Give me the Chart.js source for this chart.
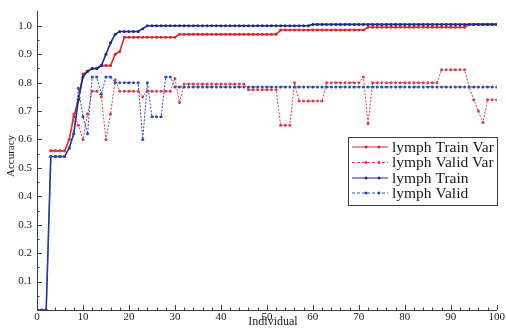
<!DOCTYPE html>
<html>
<head>
<meta charset="utf-8">
<script src="https://cdn.jsdelivr.net/npm/chart.js@4.4.0/dist/chart.umd.min.js"></script>
<style>
  html, body { margin: 0; padding: 0; background: #fff; }
  #wrap { width: 506px; height: 328px; }
</style>
</head>
<body>
<div id="wrap"><canvas id="chart"></canvas></div>
<script>
// x categories: individual index 0..100
const individuals = [
  0, 1, 2, 3, 4, 5, 6, 7, 8, 9,
  10, 11, 12, 13, 14, 15, 16, 17, 18, 19,
  20, 21, 22, 23, 24, 25, 26, 27, 28, 29,
  30, 31, 32, 33, 34, 35, 36, 37, 38, 39,
  40, 41, 42, 43, 44, 45, 46, 47, 48, 49,
  50, 51, 52, 53, 54, 55, 56, 57, 58, 59,
  60, 61, 62, 63, 64, 65, 66, 67, 68, 69,
  70, 71, 72, 73, 74, 75, 76, 77, 78, 79,
  80, 81, 82, 83, 84, 85, 86, 87, 88, 89,
  90, 91, 92, 93, 94, 95, 96, 97, 98, 99,
  100,
]

const trainVar = [
  null, null, null, 0.56, 0.56, 0.56, 0.56, 0.60, 0.68, 0.74,
  0.83, 0.84, 0.85, 0.85, 0.86, 0.86, 0.86, 0.90, 0.91, 0.96,
  0.96, 0.96, 0.96, 0.96, 0.96, 0.96, 0.96, 0.96, 0.96, 0.96,
  0.96, 0.97, 0.97, 0.97, 0.97, 0.97, 0.97, 0.97, 0.97, 0.97,
  0.97, 0.97, 0.97, 0.97, 0.97, 0.97, 0.97, 0.97, 0.97, 0.97,
  0.97, 0.97, 0.97, 0.985, 0.985, 0.985, 0.985, 0.985, 0.985, 0.985,
  0.985, 0.985, 0.985, 0.985, 0.985, 0.985, 0.985, 0.985, 0.985, 0.985,
  0.985, 0.985, 0.995, 0.995, 0.995, 0.995, 0.995, 0.995, 0.995, 0.995,
  0.995, 0.995, 0.995, 0.995, 0.995, 0.995, 0.995, 0.995, 0.995, 0.995,
  0.995, 0.995, 0.995, 0.995, 1.005, 1.005, 1.005, 1.005, 1.005, 1.005,
  1.005,
]

const validVar = [
  null, null, null, 0.56, 0.56, 0.56, 0.56, 0.60, 0.69, 0.65,
  0.60, 0.69, 0.77, 0.77, 0.75, 0.60, 0.69, 0.81, 0.77, 0.77,
  0.77, 0.77, 0.77, 0.75, 0.77, 0.77, 0.77, 0.77, 0.77, 0.77,
  0.815, 0.73, 0.795, 0.795, 0.795, 0.795, 0.795, 0.795, 0.795, 0.795,
  0.795, 0.795, 0.795, 0.795, 0.795, 0.795, 0.775, 0.775, 0.775, 0.775,
  0.775, 0.775, 0.775, 0.65, 0.65, 0.65, 0.80, 0.735, 0.735, 0.735,
  0.735, 0.735, 0.735, 0.80, 0.80, 0.80, 0.80, 0.80, 0.80, 0.80,
  0.80, 0.82, 0.655, 0.80, 0.80, 0.80, 0.80, 0.80, 0.80, 0.80,
  0.80, 0.80, 0.80, 0.80, 0.80, 0.80, 0.80, 0.80, 0.845, 0.845,
  0.845, 0.845, 0.845, 0.845, 0.785, 0.74, 0.70, 0.66, 0.74, 0.74,
  0.74,
]

const train = [
  0, 0, 0, 0.54, 0.54, 0.54, 0.54, 0.57, 0.62, 0.74,
  0.82, 0.84, 0.85, 0.85, 0.86, 0.90, 0.94, 0.97, 0.98, 0.98,
  0.98, 0.98, 0.98, 0.99, 1.0, 1.0, 1.0, 1.0, 1.0, 1.0,
  1.0, 1.0, 1.0, 1.0, 1.0, 1.0, 1.0, 1.0, 1.0, 1.0,
  1.0, 1.0, 1.0, 1.0, 1.0, 1.0, 1.0, 1.0, 1.0, 1.0,
  1.0, 1.0, 1.0, 1.0, 1.0, 1.0, 1.0, 1.0, 1.0, 1.0,
  1.005, 1.005, 1.005, 1.005, 1.005, 1.005, 1.005, 1.005, 1.005, 1.005,
  1.005, 1.005, 1.005, 1.005, 1.005, 1.005, 1.005, 1.005, 1.005, 1.005,
  1.005, 1.005, 1.005, 1.005, 1.005, 1.005, 1.005, 1.005, 1.005, 1.005,
  1.005, 1.005, 1.005, 1.005, 1.005, 1.005, 1.005, 1.005, 1.005, 1.005,
  1.005,
]

const valid = [
  0, 0, 0, 0.54, 0.54, 0.54, 0.54, 0.57, 0.62, 0.78,
  0.68, 0.62, 0.82, 0.82, 0.76, 0.82, 0.82, 0.80, 0.80, 0.80,
  0.80, 0.80, 0.80, 0.60, 0.80, 0.68, 0.68, 0.68, 0.82, 0.82,
  0.785, 0.785, 0.785, 0.785, 0.785, 0.785, 0.785, 0.785, 0.785, 0.785,
  0.785, 0.785, 0.785, 0.785, 0.785, 0.785, 0.785, 0.785, 0.785, 0.785,
  0.785, 0.785, 0.785, 0.785, 0.785, 0.785, 0.785, 0.785, 0.785, 0.785,
  0.785, 0.785, 0.785, 0.785, 0.785, 0.785, 0.785, 0.785, 0.785, 0.785,
  0.785, 0.785, 0.785, 0.785, 0.785, 0.785, 0.785, 0.785, 0.785, 0.785,
  0.785, 0.785, 0.785, 0.785, 0.785, 0.785, 0.785, 0.785, 0.785, 0.785,
  0.785, 0.785, 0.785, 0.785, 0.785, 0.785, 0.785, 0.785, 0.785, 0.785,
  0.785,
]

const seriesLabels = ['lymph Train Var', 'lymph Valid Var', 'lymph Train', 'lymph Valid']

const RED = '#d42a36'
const RED_LIGHT = '#d8404e'
const BLUE = '#1e2c8a'
const BLUE_LIGHT = '#2f4cab'
const AXIS = '#34453c'
const TEXT = '#1a1a1a'
const SERIF = '"Liberation Serif", "DejaVu Serif", serif'

const makeSet = (label, data, color, dashed, order) => ({
  label,
  data,
  borderColor: color,
  backgroundColor: color,
  borderWidth: dashed ? 1 : 1.6,
  borderDash: dashed ? [2, 1.5] : [],
  pointRadius: 1.5,
  pointHoverRadius: 1.5,
  pointBorderWidth: 0,
  tension: 0,
  spanGaps: false,
  order,
  isDashed: dashed,
})

// inward ticks, axis titles and the boxed legend inside the plot
const decorations = {
  id: 'decorations',
  afterDraw(chart) {
    const { ctx, chartArea: area, scales: { x, y } } = chart
    ctx.save()
    ctx.strokeStyle = AXIS
    ctx.lineWidth = 1
    ctx.beginPath()
    for (let v = 0; v <= 100; v += 2) {
      const px = Math.round(x.getPixelForValue(v)) + 0.5
      const len = v % 10 === 0 ? 5 : 2.5
      ctx.moveTo(px, area.bottom)
      ctx.lineTo(px, area.bottom - len)
    }
    for (let k = 1; k <= 20; k++) {
      const py = Math.round(y.getPixelForValue(k * 0.05)) + 0.5
      const len = k % 2 === 0 ? 5 : 2.5
      ctx.moveTo(area.left, py)
      ctx.lineTo(area.left + len, py)
    }
    ctx.stroke()

    ctx.fillStyle = TEXT
    ctx.textAlign = 'center'
    ctx.textBaseline = 'middle'
    ctx.font = `12px ${SERIF}`
    ctx.fillText('Individual', 273, 322)
    ctx.save()
    ctx.translate(11, 156)
    ctx.rotate(-Math.PI / 2)
    ctx.font = `11px ${SERIF}`
    ctx.fillText('Accuracy', 0, 0)
    ctx.restore()

    // legend box
    const bx = 348.5, by = 137.5, bw = 149, bh = 68
    ctx.fillStyle = '#fff'
    ctx.fillRect(bx, by, bw, bh)
    ctx.strokeStyle = '#3a3a3a'
    ctx.strokeRect(bx, by, bw, bh)
    const rows = [147, 162.5, 178, 193]
    chart.data.datasets.forEach((ds, i) => {
      const ry = rows[i]
      ctx.strokeStyle = ds.borderColor
      ctx.lineWidth = 1
      ctx.setLineDash(ds.isDashed ? [3, 2] : [])
      ctx.beginPath()
      ctx.moveTo(352, ry)
      ctx.lineTo(388, ry)
      ctx.stroke()
      ctx.setLineDash([])
      ctx.fillStyle = ds.borderColor
      ;[366, 379].forEach((mx) => {
        ctx.beginPath()
        ctx.arc(mx, ry, 1.5, 0, Math.PI * 2)
        ctx.fill()
      })
      ctx.fillStyle = TEXT
      ctx.textAlign = 'left'
      ctx.font = `15.5px ${SERIF}`
      ctx.fillText(ds.label, 392, ry + 0.5)
    })
    ctx.restore()
  },
}

new Chart(document.getElementById('chart'), {
  type: 'line',
  data: {
    labels: individuals,
    datasets: [
      makeSet(seriesLabels[0], trainVar, RED, false, 4),
      makeSet(seriesLabels[1], validVar, RED_LIGHT, true, 3),
      makeSet(seriesLabels[2], train, BLUE, false, 2),
      makeSet(seriesLabels[3], valid, BLUE_LIGHT, true, 1),
    ],
  },
  options: {
    responsive: true,
    maintainAspectRatio: false,
    animation: false,
    layout: { padding: { left: 0, right: 6, top: 8, bottom: 0 } },
    plugins: {
      legend: { display: false },
      tooltip: { enabled: false },
    },
    scales: {
      x: {
        type: 'linear',
        min: 0,
        max: 100,
        grid: { display: false, drawTicks: false },
        border: { display: true, color: AXIS, width: 1 },
        afterFit: (scale) => { scale.height = 18 },
        ticks: {
          stepSize: 10,
          padding: 1,
          maxRotation: 0,
          color: TEXT,
          font: { family: SERIF, size: 11 },
        },
      },
      y: {
        min: 0,
        max: 1.05,
        grid: { display: false, drawTicks: false },
        border: { display: true, color: AXIS, width: 1 },
        afterFit: (scale) => { scale.width = 37 },
        ticks: {
          stepSize: 0.1,
          includeBounds: false,
          padding: 5,
          color: TEXT,
          font: { family: SERIF, size: 11 },
          callback: (v) => (v > 0.05 && v < 1.04 ? v.toFixed(1) : ''),
        },
      },
    },
  },
  plugins: [decorations],
})
</script>
</body>
</html>
